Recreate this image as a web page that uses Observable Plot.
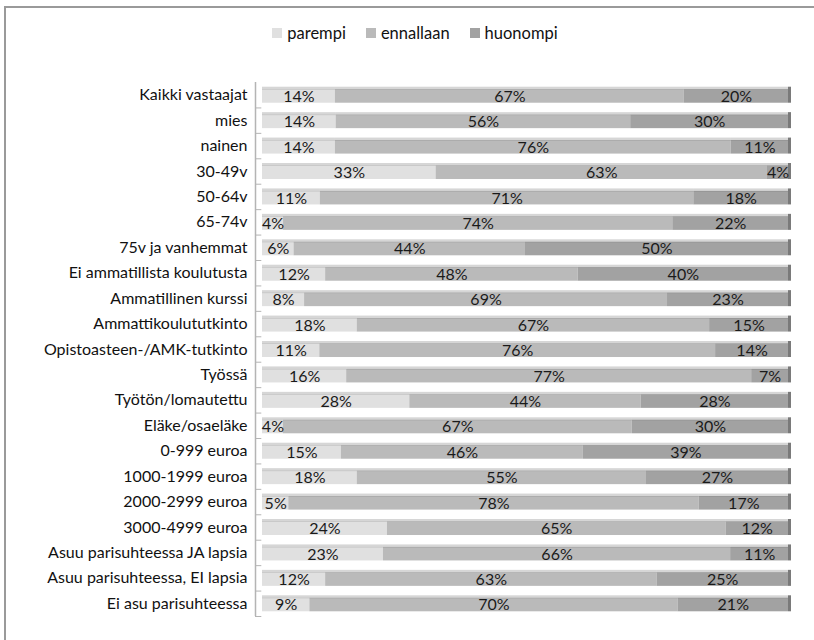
<!DOCTYPE html>
<html>
<head>
<meta charset="utf-8">
<script src="https://cdn.jsdelivr.net/npm/d3@7"></script>
<script src="https://cdn.jsdelivr.net/npm/@observablehq/plot@0.6"></script>
<style>
  html, body { margin: 0; padding: 0; overflow: hidden; }
  body { background: #fff; font-family: Lato, sans-serif; position: relative; width: 814px; height: 640px; }
  #frame { position: absolute; left: 4px; top: 6px; width: 900px; height: 700px; border-top: 2px solid #9a9a9a; border-left: 2px solid #9a9a9a; border-right: none; border-bottom: none; pointer-events: none; }
  #legend { height: 60px; display: flex; justify-content: center; align-items: flex-start; padding-top: 23px; box-sizing: border-box; padding-left: 16px; font-size: 16.5px; color: #111; }
  #legend .item { display: flex; align-items: center; margin: 0 10px; }
  #legend .sw { width: 10px; height: 10px; margin-right: 5px; }
  #chart svg { display: block; }
</style>
</head>
<body>
<div id="frame"></div>
<div id="legend"></div>
<div id="chart"></div>
<script>
const groups = ["Kaikki vastaajat","mies","nainen","30-49v","50-64v","65-74v","75v ja vanhemmat","Ei ammatillista koulutusta","Ammatillinen kurssi","Ammattikoulututkinto","Opistoasteen-/AMK-tutkinto","Työssä","Työtön/lomautettu","Eläke/osaeläke","0-999 euroa","1000-1999 euroa","2000-2999 euroa","3000-4999 euroa","Asuu parisuhteessa JA lapsia","Asuu parisuhteessa, EI lapsia","Ei asu parisuhteessa"];
const categories = ["parempi","ennallaan","huonompi"];
const parempi   = [14,14,14,33,11,4,6,12,8,18,11,16,28,4,15,18,5,24,23,12,9];
const ennallaan = [67,56,76,63,71,74,44,48,69,67,76,77,44,67,46,55,78,65,66,63,70];
const huonompi  = [20,30,11,4,18,22,50,40,23,15,14,7,28,30,39,27,17,12,11,25,21];
const colors = ["#e0e0e0","#bababa","#a2a2a2"];

const series = [parempi, ennallaan, huonompi];
const data = [];
groups.forEach((g, i) => categories.forEach((c, j) => data.push({group: g, category: c, value: series[j][i]})));

// legend
const legend = document.getElementById("legend");
categories.forEach((c, j) => {
  const it = document.createElement("div"); it.className = "item";
  const sw = document.createElement("div"); sw.className = "sw"; sw.style.background = colors[j];
  const tx = document.createElement("span"); tx.textContent = c;
  it.appendChild(sw); it.appendChild(tx); legend.appendChild(it);
});

const H = 580, mt = 22, mb = 24;
const step = (H - mt - mb) / groups.length;
const pin = 0.37;
const bw = step * (1 - pin);

const stackOpts = (extra) => Plot.stackX({x: "value", y: "group", z: "category", offset: "normalize", ...extra});

const chart = Plot.plot({
  width: 814,
  height: H,
  marginTop: mt,
  marginBottom: mb,
  marginLeft: 262,
  marginRight: 26,
  style: {fontFamily: "Lato, sans-serif", fontSize: "16px", color: "#111", background: "transparent"},
  x: {domain: [0, 1], axis: null},
  y: {domain: groups, round: false, paddingInner: pin, paddingOuter: pin / 2, label: null, tickSize: 0, tickPadding: 15},
  color: {domain: categories, range: colors},
  marks: [
    Plot.ruleX([0], {stroke: "#b4b4b4", strokeWidth: 1.5, dx: -7}),
    Plot.ruleY(groups, {y: d => d, x1: 0, x2: 0.012, dx: -7, dy: step / 2, stroke: "#b4b4b4"}),
    Plot.barX(data, stackOpts({fill: "category", insetTop: 2.5})),
    Plot.barX(data, stackOpts({fill: "#000", fillOpacity: 0.16, insetBottom: bw - 3})),
    Plot.tickX(groups, {x: () => 1, y: d => d, stroke: "#7a7a7a", strokeWidth: 3, dx: 1}),
    Plot.text(data, stackOpts({text: d => d.value + "%", fill: "#1a1a1a", fontSize: 16, dy: 1.5}))
  ]
});
document.getElementById("chart").appendChild(chart);
</script>
</body>
</html>
